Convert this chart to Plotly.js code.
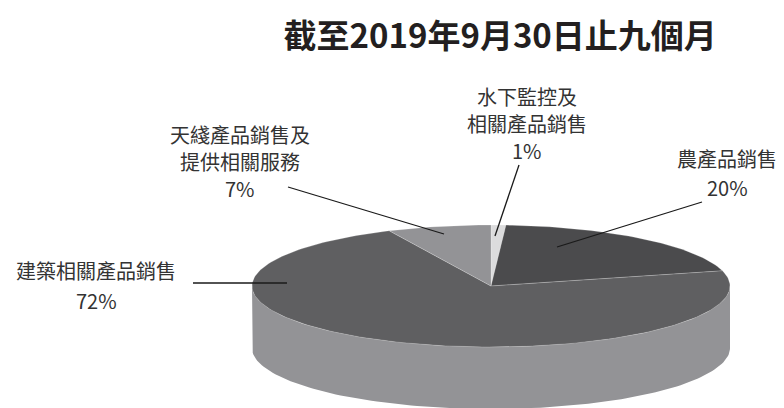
<!DOCTYPE html>
<html>
<head>
<meta charset="utf-8">
<script src="https://cdn.plot.ly/plotly-3.0.1.min.js"></script>
<style>html,body{margin:0;padding:0;background:#fff;}#chart{width:784px;height:408px;}</style>
</head>
<body>
<div id="chart"></div>
<script>
// ---- data ----
const categories = ["水下監控及\n相關產品銷售", "農產品銷售", "建築相關產品銷售", "天綫產品銷售及\n提供相關服務"];
const values = [1, 20, 72, 7];
const pctLabels = ["1%", "20%", "72%", "7%"];
const topColors = ["#dcdcdd", "#4b4b4d", "#5f5f61", "#939396"];
const sideColors = ["#c4c4c5", "#6e6e70", "#939396", "#a5a5a7"];
const titleText = "截至2019年9月30日止九個月";

// ---- geometry (axis units = pixels) ----
const cx = 491, cy = 286, rx = 239, ry = 61, depth = 62;
const startAngle = 90; // degrees, clockwise
const total = values.reduce((a, b) => a + b, 0);

function pt(deg, dy) {
  const r = deg * Math.PI / 180;
  return [cx + rx * Math.cos(r), cy - ry * Math.sin(r) + (dy || 0)];
}
function arc(a0, a1, dy) {
  const n = Math.max(2, Math.ceil(Math.abs(a1 - a0) / 1.5));
  const out = [];
  for (let i = 0; i <= n; i++) out.push(pt(a0 + (a1 - a0) * i / n, dy));
  return out;
}

const traces = [];
const ranges = [];
let acc = startAngle;
values.forEach(v => {
  const a0 = acc, a1 = acc - v / total * 360;
  ranges.push([a0, a1]);
  acc = a1;
});

// sides (visible front: angles between -180 and 0, modulo 360)
ranges.forEach(([a0, a1], i) => {
  [[0, -180], [-360, -540], [360, 180]].forEach(([f0, f1]) => {
    const s = Math.min(a0, f0), e = Math.max(a1, f1);
    if (s > e) {
      const top = arc(s, e, 0);
      const bot = arc(e, s, depth);
      const poly = top.concat(bot);
      poly.push(top[0]);
      traces.push({
        type: "scatter", mode: "lines", fill: "toself",
        x: poly.map(p => p[0]), y: poly.map(p => p[1]),
        fillcolor: sideColors[i], line: {width: 0}, hoverinfo: "skip", showlegend: false
      });
    }
  });
});

// tops
ranges.forEach(([a0, a1], i) => {
  const poly = [[cx, cy]].concat(arc(a0, a1, 0));
  poly.push([cx, cy]);
  traces.push({
    type: "scatter", mode: "lines", fill: "toself",
    x: poly.map(p => p[0]), y: poly.map(p => p[1]),
    fillcolor: topColors[i], line: {width: 0.6, color: "rgba(255,255,255,0.35)"},
    hoverinfo: "skip", showlegend: false
  });
});

// labels & leader lines (layout positions)
const labelPos = [
  {x: 527, y: [96, 123, 150], from: [519, 165], to: [495, 236]},
  {x: 727, y: [158, 187], from: [702, 202], to: [557, 247]},
  {x: 96, y: [270, 300], from: [193, 283], to: [287, 283]},
  {x: 240, y: [134, 161, 188], from: [288, 187], to: [444, 234]}
];
const annotations = [];
const shapes = [];
categories.forEach((c, i) => {
  const lines = c.split("\n").concat([pctLabels[i]]);
  lines.forEach((t, j) => {
    annotations.push({
      x: labelPos[i].x, y: labelPos[i].y[j], xref: "x", yref: "y",
      text: t, showarrow: false, xanchor: "center", yanchor: "middle",
      font: {family: "Noto Sans CJK TC, Noto Sans CJK SC, sans-serif", size: 20, color: "#333333"}
    });
  });
  shapes.push({
    type: "line", xref: "x", yref: "y",
    x0: labelPos[i].from[0], y0: labelPos[i].from[1],
    x1: labelPos[i].to[0], y1: labelPos[i].to[1],
    line: {color: "#1a1a1a", width: 1.3}
  });
});

const layout = {
  width: 784, height: 408,
  margin: {l: 0, r: 0, t: 0, b: 0},
  paper_bgcolor: "#ffffff", plot_bgcolor: "#ffffff",
  title: {
    text: "<b>" + titleText + "</b>",
    x: 0.638, xanchor: "center", y: 0.91, yanchor: "middle",
    font: {family: "Noto Sans CJK TC, Noto Sans CJK SC, sans-serif", size: 33, color: "#231f20"}
  },
  xaxis: {range: [0, 784], visible: false, fixedrange: true},
  yaxis: {range: [408, 0], visible: false, fixedrange: true},
  annotations: annotations,
  shapes: shapes,
  showlegend: false
};

Plotly.newPlot("chart", traces, layout, {displayModeBar: false, staticPlot: true});
</script>
</body>
</html>
